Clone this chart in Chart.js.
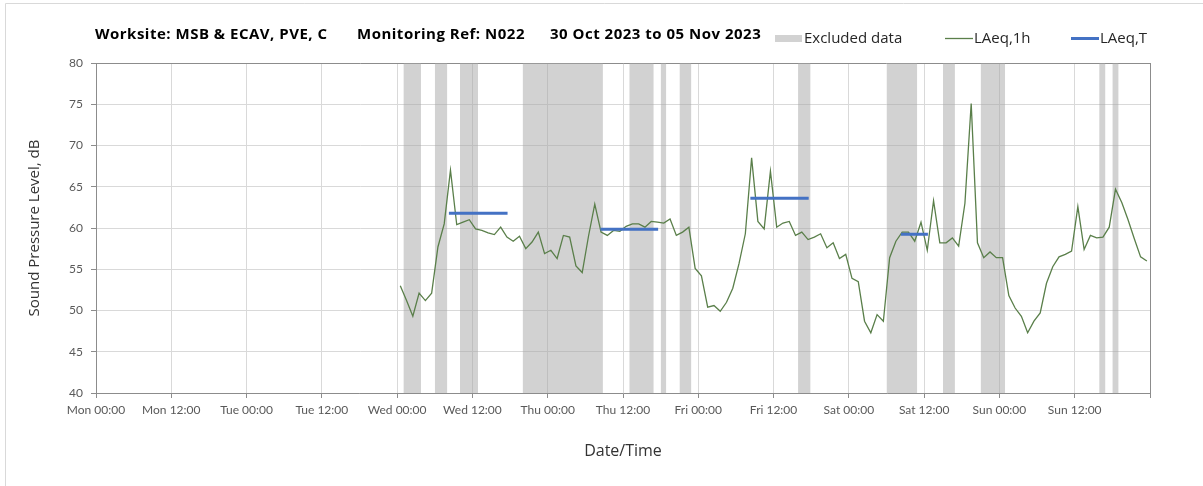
<!DOCTYPE html>
<html>
<head>
<meta charset="utf-8">
<title>N022 - LAeq</title>
<script src="https://cdn.jsdelivr.net/npm/chart.js@4.4.1/dist/chart.umd.min.js"></script>
<style>
  html, body { margin: 0; padding: 0; background: #fff; }
  #wrap { position: relative; width: 1203px; height: 486px; }
</style>
</head>
<body>
<div id="wrap"><canvas id="chartRuido" width="1203" height="486"></canvas></div>
<script>
// ================= DATA =================
const tickLabels = ['Mon 00:00', 'Mon 12:00', 'Tue 00:00', 'Tue 12:00', 'Wed 00:00', 'Wed 12:00',
  'Thu 00:00', 'Thu 12:00', 'Fri 00:00', 'Fri 12:00', 'Sat 00:00', 'Sat 12:00', 'Sun 00:00', 'Sun 12:00', ''];

const titleParts = ['Worksite: MSB & ECAV, PVE, C', 'Monitoring Ref: N022', '30 Oct 2023 to 05 Nov 2023'];

// hourly LAeq,1h (dB), first value plotted at Wed 00:30 (hours from Mon 00:00)
const firstHour = 48.5;
const laeq1h = [
  53.0, 51.2, 49.3, 52.1, 51.2, 52.1, 57.7, 60.5, 67.0, 60.4, 60.7, 61.0,
  59.9, 59.7, 59.4, 59.2, 60.1, 58.9, 58.4, 59.0, 57.5, 58.3, 59.5, 56.9,
  57.3, 56.3, 59.1, 58.9, 55.4, 54.6, 59.0, 62.9, 59.5, 59.1, 59.7, 59.6,
  60.2, 60.5, 60.5, 60.1, 60.8, 60.7, 60.6, 61.1, 59.1, 59.5, 60.1, 55.1,
  54.2, 50.4, 50.6, 49.9, 51.0, 52.7, 55.7, 59.3, 68.5, 60.8, 59.9, 66.9,
  60.1, 60.6, 60.8, 59.1, 59.5, 58.6, 58.9, 59.3, 57.6, 58.2, 56.3, 56.8,
  53.9, 53.5, 48.7, 47.3, 49.5, 48.7, 56.4, 58.4, 59.5, 59.5, 58.4, 60.7,
  57.3, 63.3, 58.2, 58.2, 58.8, 57.8, 63.0, 75.1, 58.2, 56.4, 57.1, 56.4,
  56.4, 51.8, 50.3, 49.3, 47.3, 48.7, 49.7, 53.3, 55.3, 56.5, 56.8, 57.2,
  62.6, 57.4, 59.1, 58.8, 58.9, 60.1, 64.7, 63.1, 61.0, 58.7, 56.5, 56.0
];

// excluded periods (hours from Mon 00:00)
const excludedStart = [49, 54, 58, 68, 85, 90, 93, 111.9, 126, 135, 141, 159.9, 162];
const excludedEnd   = [51.8, 56, 60.9, 80.8, 88.9, 90.9, 94.9, 113.9, 130.9, 136.9, 144.9, 160.9, 163];

// LAeq,T periods
const laeqTStart = [56.25, 80.4, 104.3, 128.3];
const laeqTEnd   = [65.6, 89.6, 113.6, 132.6];
const laeqTValue = [61.8, 59.85, 63.6, 59.25];

// ================= SERIES =================
const puntos1h = laeq1h.map((v, i) => ({ x: firstHour + i, y: v }));

const puntosT = [];
laeqTStart.forEach((s, i) => {
  puntosT.push({ x: s, y: laeqTValue[i] }, { x: laeqTEnd[i], y: laeqTValue[i] }, { x: laeqTEnd[i], y: null });
});

const puntosExcl = [];
excludedStart.forEach((s, i) => {
  puntosExcl.push({ x: s, y: 80 }, { x: excludedEnd[i], y: 80 }, { x: excludedEnd[i], y: null });
});

// ================= PLUGIN: frame, title, legend =================
const encabezado = {
  id: 'encabezado',
  beforeDraw(chart) {
    const ctx = chart.ctx;
    ctx.save();
    ctx.strokeStyle = '#d9d9d9';
    ctx.lineWidth = 1;
    ctx.beginPath();
    ctx.moveTo(5.5, 486);
    ctx.lineTo(5.5, 3.5);
    ctx.lineTo(1203, 3.5);
    ctx.stroke();
    ctx.restore();
  },
  afterDraw(chart) {
    const ctx = chart.ctx;
    ctx.save();
    ctx.textBaseline = 'middle';
    ctx.fillStyle = '#000';
    ctx.font = 'bold 15px "Open Sans"';
    ctx.letterSpacing = '0.5px';
    const tx = [95, 357, 550];
    titleParts.forEach((t, i) => ctx.fillText(t, tx[i], 35));
    ctx.letterSpacing = '0px';

    // legend: excluded, LAeq,1h, LAeq,T
    const items = [{ ds: 2, x: 775 }, { ds: 1, x: 945 }, { ds: 0, x: 1071 }];
    ctx.font = '15px "Open Sans"';
    items.forEach(it => {
      const d = chart.data.datasets[it.ds];
      if (d.fill) {
        ctx.fillStyle = d.backgroundColor;
        ctx.fillRect(it.x, 35, 27, 7);
      } else {
        ctx.strokeStyle = d.borderColor;
        ctx.lineWidth = d.borderWidth;
        ctx.beginPath();
        ctx.moveTo(it.x, 38.5);
        ctx.lineTo(it.x + 28, 38.5);
        ctx.stroke();
      }
      ctx.fillStyle = '#262626';
      ctx.fillText(d.label, it.x + 29, 38.5);
    });
    ctx.restore();
  }
};

// ================= CHART =================
const gridColor = (edge) => (c) => (c.tick && c.tick.value === edge ? '#8c8c8c' : '#d9d9d9');

new Chart(document.getElementById('chartRuido'), {
  type: 'line',
  data: {
    datasets: [
      {
        label: 'LAeq,T',
        data: puntosT,
        borderColor: '#4472c4',
        borderWidth: 3,
        borderCapStyle: 'butt',
        pointRadius: 0,
        fill: false,
        spanGaps: false
      },
      {
        label: 'LAeq,1h',
        data: puntos1h,
        borderColor: '#5a7f4a',
        borderWidth: 1.3,
        pointRadius: 0,
        tension: 0,
        fill: false
      },
      {
        label: 'Excluded data',
        data: puntosExcl,
        borderWidth: 0,
        borderColor: 'rgba(0,0,0,0)',
        backgroundColor: 'rgba(166,166,166,0.5)',
        pointRadius: 0,
        fill: { target: { value: 40 } },
        spanGaps: false
      }
    ]
  },
  options: {
    responsive: false,
    animation: false,
    events: [],
    layout: { padding: { top: 63, right: 53, bottom: 0, left: 0 } },
    plugins: {
      legend: { display: false },
      title: { display: false },
      tooltip: { enabled: false }
    },
    scales: {
      x: {
        type: 'linear',
        min: 0,
        max: 168,
        afterFit: (s) => { s.height = 93; },
        ticks: {
          stepSize: 12,
          autoSkip: false,
          maxRotation: 0,
          padding: 5,
          color: '#595959',
          font: { family: 'Lato', size: 12 },
          callback: (v, i) => tickLabels[i]
        },
        grid: { color: gridColor(168), tickColor: '#8c8c8c', tickLength: 5 },
        border: { color: '#8c8c8c' },
        title: {
          display: true,
          text: 'Date/Time',
          color: '#333',
          font: { family: 'Open Sans', size: 16 },
          padding: { top: 0, bottom: 25 }
        }
      },
      y: {
        min: 40,
        max: 80,
        afterFit: (s) => { s.width = 96; },
        ticks: {
          stepSize: 5,
          padding: 8,
          color: '#595959',
          font: { family: 'Lato', size: 12 }
        },
        grid: { color: gridColor(80), tickColor: '#8c8c8c', tickLength: 5 },
        border: { color: '#8c8c8c' },
        title: {
          display: true,
          text: 'Sound Pressure Level, dB',
          color: '#333',
          font: { family: 'Open Sans', size: 15 },
          padding: { top: 26, bottom: 0 }
        }
      }
    }
  },
  plugins: [encabezado]
});
</script>
</body>
</html>
